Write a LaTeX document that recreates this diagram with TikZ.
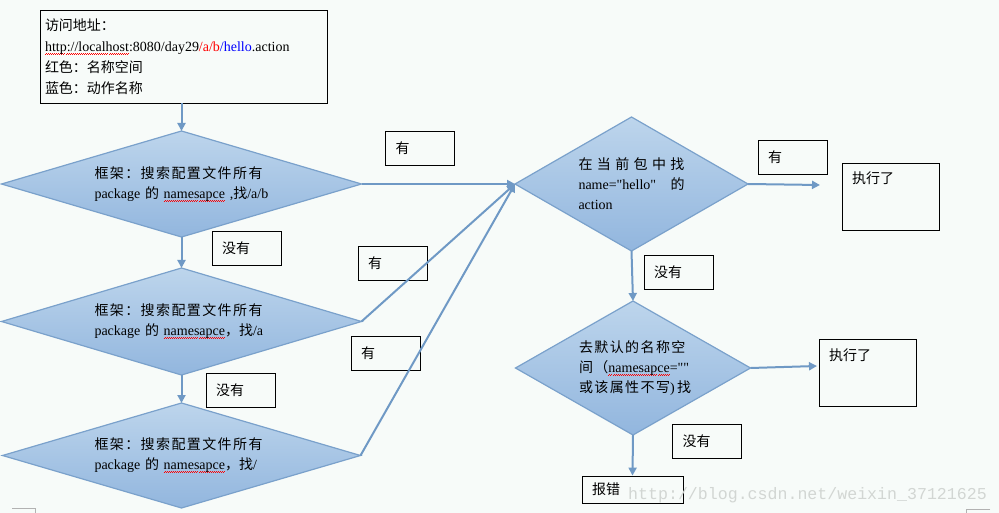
\documentclass[tikz,border=0pt]{standalone}
\usepackage{fontspec}
\setmainfont{Liberation Serif}[Ligatures=TeXOff]
\newfontfamily\cjk{Noto Sans CJK SC}
\newfontfamily\cjks[LetterSpace=10]{Noto Sans CJK SC}
\newfontfamily\wmfont{Liberation Mono}
\usepackage{tikz}
\usetikzlibrary{shapes.geometric,arrows.meta}
\definecolor{bgcol}{HTML}{F7FBF9}
\definecolor{flowline}{HTML}{6F99C5}
\definecolor{decitop}{HTML}{BDD5EC}
\definecolor{decibot}{HTML}{92B6DE}
\definecolor{decidraw}{HTML}{7AA1CB}
\definecolor{wmgray}{HTML}{D2D6D3}
% red wavy line of the spell checker
\newcommand\wavepiece{\hbox{\rule[0pt]{1pt}{0.6pt}\rule[0.9pt]{1pt}{0.6pt}}}
\newcommand\squig[1]{\leavevmode\setbox0\hbox{#1}\rlap{\raisebox{-3pt}{\color{red}\hbox to\wd0{\xleaders\wavepiece\hfil}}}\box0}

\begin{document}
\begin{tikzpicture}[x=1pt,y=-1pt,>={Triangle[length=8pt,width=8pt]},
  font=\fontsize{14}{20}\selectfont,
  deci/.style={diamond,draw=decidraw,line width=1.2pt,top color=decitop,bottom color=decibot,inner sep=0pt,outer sep=0pt,align=left},
  lbl/.style={draw,line width=0.8pt,font=\cjk\fontsize{14}{20}\selectfont,text width=49pt,inner xsep=10pt,minimum height=34pt,align=left},
  done/.style={draw,line width=0.8pt,font=\cjk\fontsize{14}{20}\selectfont,text width=77pt,inner xsep=10pt,inner ysep=4pt,text height=17pt,text depth=42pt,align=left},
  flow/.style={->,draw=flowline,line width=2pt}]
\fill[bgcol] (0,0) rectangle (999,513);
\useasboundingbox (0,0) rectangle (999,513);

\node[draw,line width=0.8pt,font=\fontsize{14}{20.8}\selectfont,text width=277pt,inner xsep=5pt,minimum height=93pt,align=left] (addr) at (183.5,56.5)
  {{\cjk 访问地址：}\\ \squig{http://localhost}:8080/day29\textcolor{red}{/a/b}\textcolor{blue}{/hello}.action\\ {\cjk 红色：名称空间}\\ {\cjk 蓝色：动作名称}};

\node[deci,minimum width=360pt,minimum height=106pt,aspect=3.4,text width=174pt] (d1) at (181.5,184)
  {{\cjks 框架：搜索配置文件所有}\\ package {\cjk 的} \squig{namesapce}\ ,{\cjk 找}/a/b};
\node[deci,minimum width=360pt,minimum height=107pt,aspect=3.4,text width=174pt] (d2) at (181.5,321.5)
  {{\cjks 框架：搜索配置文件所有}\\ package {\cjk 的} \squig{namesapce}{\cjk ，找}/a};
\node[deci,minimum width=358pt,minimum height=105pt,aspect=3.4,text width=174pt] (d3) at (181.5,455.5)
  {{\cjks 框架：搜索配置文件所有}\\ package {\cjk 的} \squig{namesapce}{\cjk ，找}/};
\node[deci,minimum width=233pt,minimum height=134pt,aspect=1.74,text width=106pt] (d4) at (631.5,184)
  {{\cjk 在}\hfill{\cjk 当}\hfill{\cjk 前}\hfill{\cjk 包}\hfill{\cjk 中}\hfill{\cjk 找}\\ name="hello"\hfill{\cjk 的}\\ action};
\node[deci,minimum width=235pt,minimum height=134pt,aspect=1.75,text width=108pt] (d5) at (633,368)
  {{\cjks 去默认的名称空}\\ {\cjks 间（}\squig{namesapce}=""\\ {\cjks 或该属性不写})\,{\cjks 找}};

\node[lbl] (y1) at (420,148) {有};
\node[lbl] (n1) at (246.5,248.5) {没有};
\node[lbl] (y2) at (392.5,263.5) {有};
\node[lbl] (n2) at (240.5,390) {没有};
\node[lbl] (y3) at (385.5,353) {有};
\node[lbl] (y4) at (792.5,157) {有};
\node[lbl] (n3) at (678.5,272.5) {没有};
\node[lbl] (n4) at (707,441) {没有};

\node[done] (run1) at (890.5,196.5) {执行了};
\node[done] (run2) at (867.5,372.5) {执行了};
\node[draw,line width=0.8pt,font=\cjk\fontsize{14}{20}\selectfont,text width=81pt,inner xsep=10pt,minimum height=27pt,align=left] (err) at (632.5,489.5) {报错};

\coordinate (e1) at (820,185);
\coordinate (e2) at (817,366);

\draw[flow] (d1.north |- addr.south) -- (d1.north);
\draw[flow] (d1.south) -- (d2.north);
\draw[flow] (d2.south) -- (d3.north);
\draw[flow] (d1.east) -- (d4.west);
\draw[flow] (d2.east) -- (d4.west);
\draw[flow] (d3.east) -- (d4.west);
\draw[flow] (d4.east) -- (e1);
\draw[flow] (d4.south) -- (d5.north);
\draw[flow] (d5.east) -- (e2);
\draw[flow] (d5.south) -- (err.north);

% page corner marks and watermark
\draw[gray!60] (12,508) -- (35,508) -- (35,513);
\draw[gray!60] (990,509) -- (966,509) -- (966,513);
\node[text=wmgray,font=\wmfont\fontsize{16.6}{16.6}\selectfont,anchor=base west,inner sep=0pt] (wm) at (628,499) {http://blog.csdn.net/weixin\_37121625};
\end{tikzpicture}
\end{document}
